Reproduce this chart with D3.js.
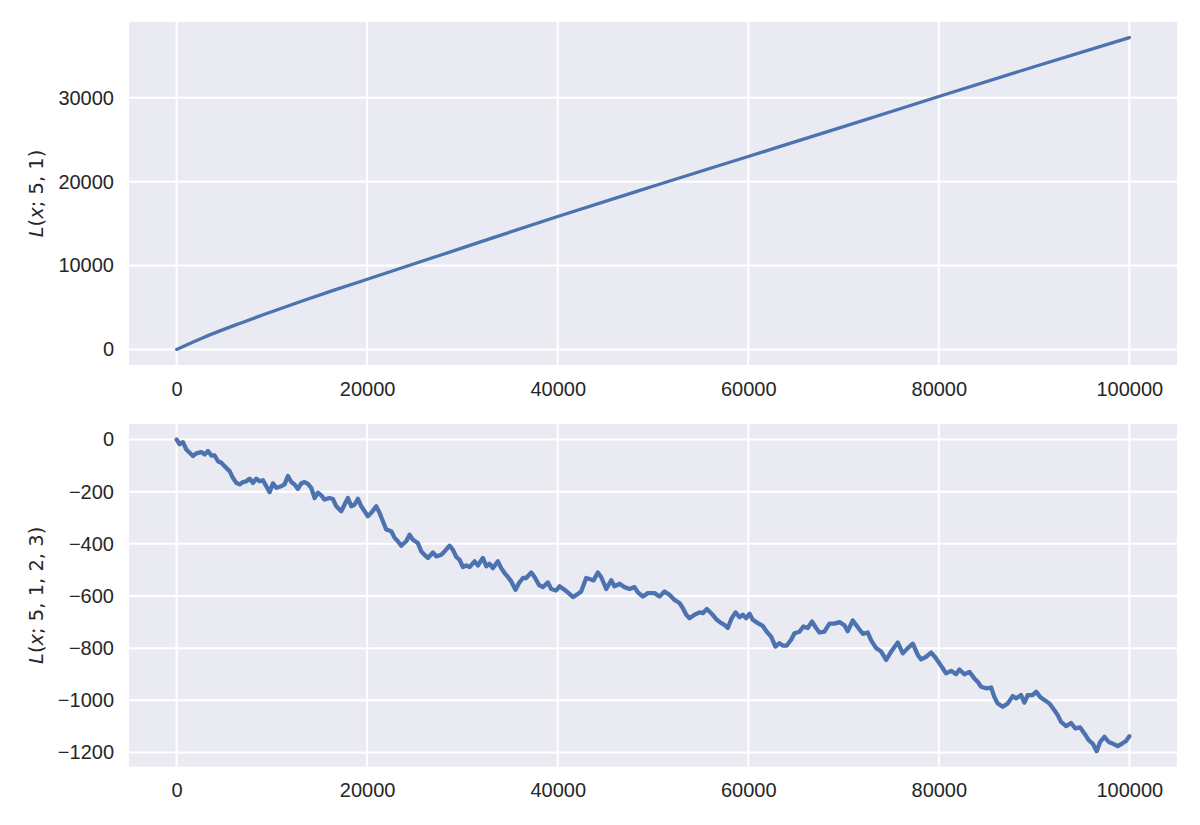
<html>
<head>
<meta charset="utf-8">
<script src="https://d3js.org/d3.v7.min.js"></script>
<style>
body {
  margin: 0;
  background: #fff;
}
svg {
  display: block;
}
.axis text {
  font-family: "Liberation Sans", Arial, sans-serif;
  font-size: 20px;
  fill: #262626;
}
.axis path, .axis line {
  display: none;
}
.grid line {
  stroke: #fff;
  stroke-width: 2;
}
.ylabel {
  font-family: "DejaVu Sans", sans-serif;
  font-size: 19.5px;
  fill: #262626;
}
</style>
</head>
<body>

<svg width="1200" height="825"></svg>

<script>

// x ticks shared by both panels
var xTicks = [0, 20000, 40000, 60000, 80000, 100000];

// top panel: L(x; 5, 1)
var topSteps  = [0, 2770, 6260, 9760, 13250, 16760, 20250, 30000, 40000, 50000, 60000, 70000, 80000, 90000, 100000];
var topValues = [0, 1400, 2950, 4400, 5800, 7150, 8450, 12100, 15850, 19450, 23000, 26550, 30150, 33700, 37170];
var topTicks  = [0, 10000, 20000, 30000];

// bottom panel: L(x; 5, 1, 2, 3)
var lowSteps = [
  0, 315, 660, 1015, 1715, 2065, 2590, 2940, 3290, 3640, 3990, 4340, 4690, 5040, 5560, 5910, 6260, 6610, 6960, 7310,
  7660, 8010, 8360, 8710, 9060, 9410, 9760, 10110, 10460, 10990, 11330, 11680, 12030, 12380, 12730, 13080, 13430, 13780, 14130, 14480,
  14830, 15180, 15530, 16050, 16400, 16760, 17280, 17630, 17980, 18330, 18680, 19030, 19380, 19730, 20070, 20430, 20950, 21300, 21650, 22000,
  22530, 22880, 23220, 23580, 24100, 24450, 24800, 25320, 25680, 26020, 26370, 26900, 27250, 27780, 28120, 28650, 29000, 29350, 29700, 30050,
  30400, 30750, 31270, 31620, 32140, 32500, 32840, 33190, 33720, 34070, 34420, 34770, 35120, 35570, 35920, 36350, 36690, 37220, 37570, 38020,
  38440, 38970, 39320, 39840, 40190, 40710, 41240, 41590, 42000, 42460, 42990, 43340, 43760, 44210, 44560, 45090, 45620, 45960, 46490, 47010,
  47540, 48060, 48410, 48940, 49460, 50160, 50680, 51210, 51730, 52260, 52780, 53140, 53490, 53830, 54360, 54880, 55230, 55650, 56110, 56640,
  57160, 57510, 57850, 58210, 58660, 59080, 59430, 59780, 60130, 60470, 61000, 61520, 61940, 62400, 62850, 63270, 63620, 64040, 64500, 64850,
  65370, 65790, 66240, 66700, 67120, 67470, 67990, 68520, 69040, 69570, 70090, 70440, 70970, 71490, 72020, 72540, 72900, 73420, 73950, 74470,
  75000, 75690, 76220, 76740, 77270, 77790, 78140, 78670, 79190, 79640, 80060, 80410, 80760, 81290, 81810, 82160, 82690, 83210, 83730, 84080,
  84440, 84960, 85490, 85830, 86180, 86710, 87230, 87760, 88110, 88630, 88980, 89330, 89860, 90210, 90630, 91080, 91610, 92130, 92480, 92830,
  93360, 93880, 94330, 94830, 95280, 95730, 96150, 96570, 96930, 97380, 97830, 98250, 98780, 99230, 99650, 100000
];
var lowValues = [
  0, -18, -10, -38, -63, -53, -48, -57, -44, -61, -61, -83, -89, -102, -121, -147, -166, -172, -163, -160,
  -150, -166, -150, -160, -156, -179, -202, -168, -185, -179, -172, -140, -163, -172, -189, -168, -163, -170, -185, -224,
  -204, -214, -230, -224, -228, -256, -275, -249, -224, -256, -249, -227, -256, -275, -294, -281, -256, -281, -313, -345,
  -352, -377, -390, -407, -390, -365, -384, -397, -429, -442, -454, -433, -448, -442, -429, -407, -423, -450, -461, -489,
  -483, -489, -467, -483, -454, -486, -476, -493, -467, -493, -512, -527, -544, -576, -551, -531, -531, -510, -527, -557,
  -566, -548, -573, -579, -563, -576, -592, -604, -595, -583, -531, -535, -540, -510, -527, -573, -540, -563, -553, -566,
  -573, -566, -586, -602, -589, -589, -602, -583, -595, -615, -627, -647, -672, -685, -672, -663, -666, -650, -666, -689,
  -704, -711, -723, -689, -663, -681, -672, -685, -668, -691, -704, -715, -737, -756, -794, -781, -790, -790, -768, -743,
  -737, -717, -723, -698, -723, -740, -737, -706, -706, -700, -712, -735, -694, -720, -745, -740, -770, -800, -813, -845,
  -813, -778, -820, -800, -783, -826, -843, -833, -817, -836, -858, -877, -897, -887, -900, -882, -900, -891, -916, -929,
  -948, -954, -951, -987, -1012, -1025, -1012, -984, -993, -980, -1009, -980, -980, -967, -987, -999, -1012, -1038, -1057, -1083,
  -1099, -1087, -1108, -1104, -1127, -1153, -1166, -1195, -1160, -1140, -1160, -1166, -1176, -1166, -1156, -1138
];
var lowTicks = [0, -200, -400, -600, -800, -1000, -1200];

var svg = d3.select("svg");

var left = 129, right = 1177;

// matplotlib style 5% margins
function padded(vals) {
    var e = d3.extent(vals), r = e[1] - e[0];
    return [e[0] - 0.05 * r, e[1] + 0.05 * r];
}

function panel(top, bottom, steps, values, yTicks, labelParts, lineWidth, curve) {

    var x = d3.scaleLinear()
        .domain(padded(steps))
        .range([left, right]);

    var y = d3.scaleLinear()
        .domain(padded(values))
        .range([bottom, top]);

    var g = svg.append("g");

    g.append("rect")
        .attr("x", left)
        .attr("y", top)
        .attr("width", right - left)
        .attr("height", bottom - top)
        .attr("fill", "#EAEAF2");

    var grid = g.append("g").attr("class", "grid");

    grid.selectAll(".vx")
        .data(xTicks)
      .enter().append("line")
        .attr("x1", d => x(d)).attr("x2", d => x(d))
        .attr("y1", top).attr("y2", bottom);

    grid.selectAll(".hy")
        .data(yTicks)
      .enter().append("line")
        .attr("x1", left).attr("x2", right)
        .attr("y1", d => y(d)).attr("y2", d => y(d));

    var line = d3.line()
        .x((d, i) => x(steps[i]))
        .y(d => y(d))
        .curve(curve);

    g.append("path")
        .datum(values)
        .attr("d", line)
        .attr("fill", "none")
        .attr("stroke", "#4C72B0")
        .attr("stroke-width", lineWidth)
        .attr("stroke-linejoin", "round")
        .attr("stroke-linecap", "round");

    g.append("g")
        .attr("class", "axis")
        .attr("transform", "translate(0," + bottom + ")")
        .call(d3.axisBottom(x).tickValues(xTicks).tickSize(0).tickPadding(16.5).tickFormat(d3.format("d")));

    g.append("g")
        .attr("class", "axis")
        .attr("transform", "translate(" + left + ",0)")
        .call(d3.axisLeft(y).tickValues(yTicks).tickSize(0).tickPadding(15).tickFormat(d3.format("d")));

    // y label, mathtext-ish with italic L and x
    var lab = g.append("text")
        .attr("class", "ylabel")
        .attr("text-anchor", "middle")
        .attr("transform", "translate(43," + ((top + bottom) / 2) + ") rotate(-90)");

    labelParts.forEach(function(p) {
        lab.append("tspan")
            .attr("font-style", p[1] ? "italic" : "normal")
            .text(p[0]);
    });
}

panel(22, 365, topSteps, topValues, topTicks,
    [["L", 1], ["(", 0], ["x", 1], ["; 5, 1)", 0]], 3.3, d3.curveMonotoneX);

panel(424, 766.7, lowSteps, lowValues, lowTicks,
    [["L", 1], ["(", 0], ["x", 1], ["; 5, 1, 2, 3)", 0]], 4.3, d3.curveLinear);

</script>

</body>
</html>
